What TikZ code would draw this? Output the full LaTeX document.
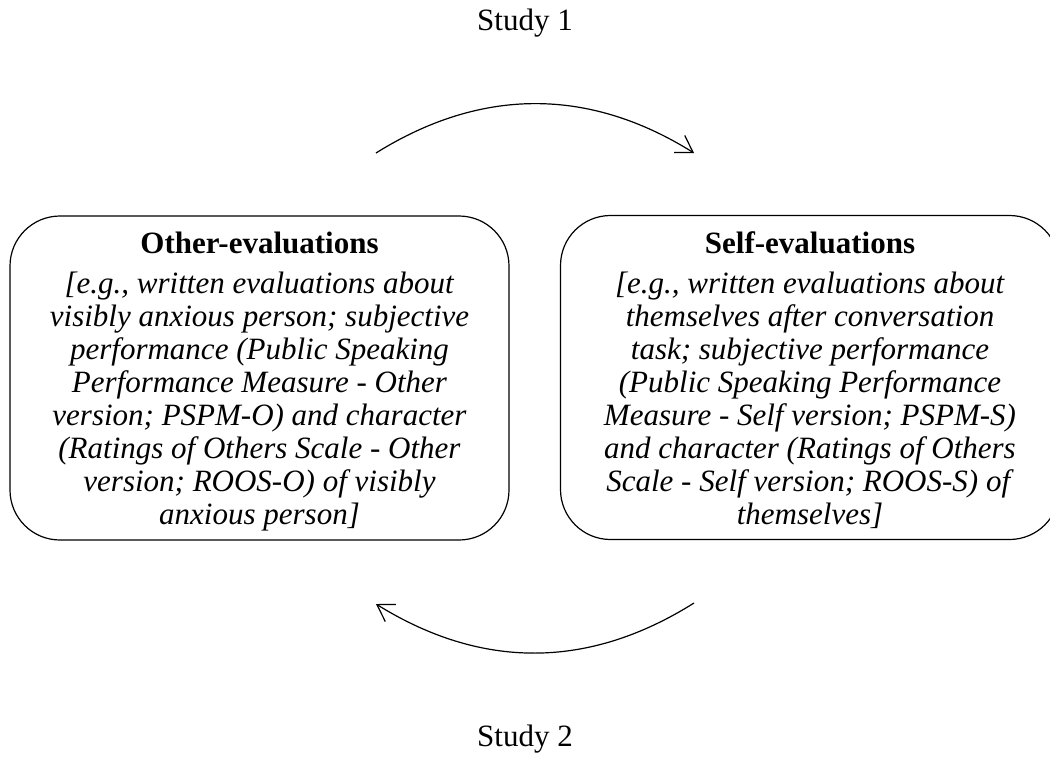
\documentclass[tikz,border=0pt]{standalone}
\usepackage{fontspec}
\setmainfont{Liberation Serif}
\usetikzlibrary{arrows.meta}

\begin{document}
\begin{tikzpicture}[x=1pt,y=-1pt,
      font=\fontsize{31}{33}\selectfont,
      evalbox/.style={draw,rounded corners=50pt,line width=1.2pt,
                      minimum width=499pt,minimum height=324pt,
                      inner sep=0pt,align=center},
      cycle/.style={-{Straight Barb[length=16pt,width=20pt]},line width=1.2pt}]
    \clip (0,0) rectangle (1050,756);

    \node[anchor=base] (st1) at (525,30) {Study 1};
    \node[anchor=base] (st2) at (525,746) {Study 2};

    \node[evalbox] (other) at (259.5,378)
      {\rule{0pt}{28pt}\textbf{Other-evaluations}\\[7pt]
       \textit{[e.g., written evaluations about}\\
       \textit{visibly anxious person; subjective}\\
       \textit{performance (Public Speaking}\\
       \textit{Performance Measure - Other}\\
       \textit{version; PSPM-O) and character}\\
       \textit{(Ratings of Others Scale - Other}\\
       \textit{version; ROOS-O) of visibly}\\
       \textit{anxious person]}};
    \node[evalbox] (self) at (810,377.5)
      {\rule{0pt}{28pt}\textbf{Self-evaluations}\\[7pt]
       \textit{[e.g., written evaluations about}\\
       \textit{themselves after conversation}\\
       \textit{task; subjective performance}\\
       \textit{(Public Speaking Performance}\\
       \textit{Measure - Self version; PSPM-S)}\\
       \textit{and character (Ratings of Others}\\
       \textit{Scale - Self version; ROOS-S) of}\\
       \textit{themselves]}};

    % arcs between the two boxes
    \coordinate (t1) at (376,153);
    \coordinate (t2) at (694,153);
    \coordinate (b1) at (694,603);
    \coordinate (b2) at (376,604);
    \draw[cycle] (t1) to[bend left=32] (t2);
    \draw[cycle] (b1) to[bend left=32] (b2);
  \end{tikzpicture}
\end{document}
